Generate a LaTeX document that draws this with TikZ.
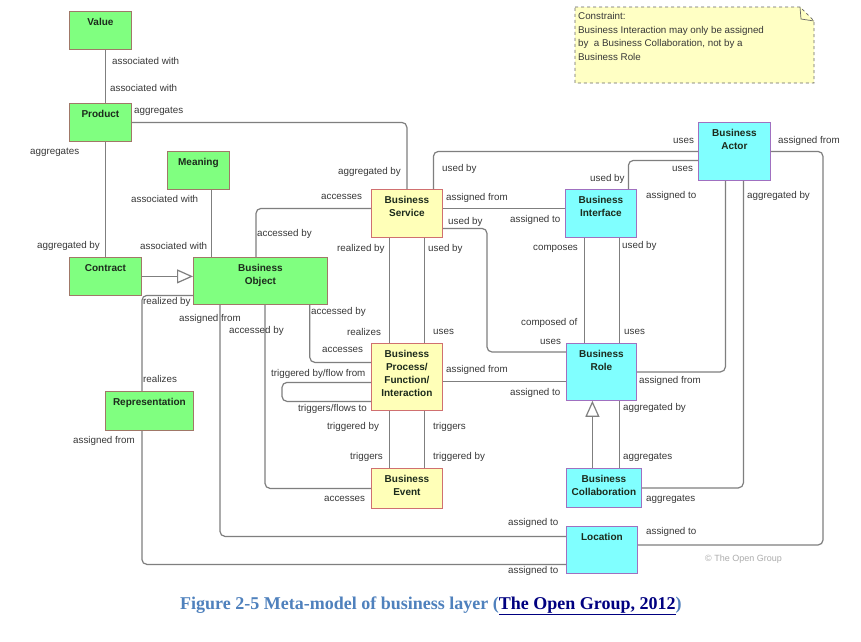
\documentclass[tikz,border=0pt]{standalone}
\usepackage{fontspec}
\setmainfont{Liberation Sans}
\newfontfamily\capfont{Liberation Serif}
\usetikzlibrary{arrows.meta,calc}
\definecolor{passfill}{HTML}{80FF80}
\definecolor{passline}{HTML}{A07868}
\definecolor{behfill}{HTML}{FFFFB8}
\definecolor{behline}{HTML}{D07070}
\definecolor{actfill}{HTML}{80FFFF}
\definecolor{actline}{HTML}{A070C0}
\definecolor{relline}{HTML}{7F7F7F}
\definecolor{lbltext}{HTML}{383838}
\definecolor{elemtext}{HTML}{1C2A1C}
\definecolor{notefill}{HTML}{FFFFC4}
\definecolor{capblue}{HTML}{4F81BD}
\definecolor{linkblue}{HTML}{000080}
\begin{document}
\begin{tikzpicture}[
        x=1pt, y=-1pt,
        elem/.style={draw, rectangle, line width=0.8pt, inner sep=0pt, anchor=north west},
        passive/.style={elem, fill=passfill, draw=passline},
        behaviour/.style={elem, fill=behfill, draw=behline},
        active/.style={elem, fill=actfill, draw=actline},
        dims/.style 2 args={minimum width=#1pt, minimum height=#2pt},
        elemname/.style={label={[anchor=north, inner sep=7pt, align=center, text=elemtext,
                    font=\bfseries\fontsize{10}{13}\selectfont]north:#1}},
        rel/.style={draw=relline, line width=1.2pt, rounded corners=5pt},
        spec/.style={rel, -{Triangle[open, length=16pt, width=14pt, fill=white]}},
        lbl/.style={anchor=west, inner sep=0pt, text=lbltext, font=\fontsize{9.8}{11}\selectfont}
    ]
    \fill[white] (0,0) rectangle (861,641);
    \useasboundingbox (0,0) rectangle (861,641);

    \node[passive, dims={62}{38}, elemname=Value] (value) at (69,11) {};
    \node[passive, dims={62}{38}, elemname=Product] (product) at (69,103) {};
    \node[passive, dims={62}{38}, elemname=Meaning] (meaning) at (167,151) {};
    \node[passive, dims={72}{38}, elemname=Contract] (contract) at (69,257) {};
    \node[passive, dims={134}{47}, elemname={Business\\Object}] (bobject) at (193,257) {};
    \node[passive, dims={88}{39}, elemname=Representation] (repr) at (105,391) {};
    \node[behaviour, dims={71}{48}, elemname={Business\\Service}] (service) at (371,189) {};
    \node[behaviour, dims={71}{67}, elemname={Business\\Process/\\Function/\\Interaction}] (process) at (371,343) {};
    \node[behaviour, dims={71}{40}, elemname={Business\\Event}] (event) at (371,468) {};
    \node[active, dims={71}{48}, elemname={Business\\Interface}] (iface) at (565,189) {};
    \node[active, dims={72}{58}, elemname={Business\\Actor}] (actor) at (698,122) {};
    \node[active, dims={70}{57}, elemname={Business\\Role}] (role) at (566,343) {};
    \node[active, dims={75}{39}, elemname={Business\\Collaboration}] (collab) at (566,468) {};
    \node[active, dims={71}{47}, elemname=Location] (location) at (566,526) {};

    \draw[rel] ([xshift=5pt]value.south) -- ([xshift=5pt]product.north);
    \draw[rel] (product.east) -| (service.north);
    \draw[rel] ([xshift=5pt]product.south) -- (contract.north);
    \draw[rel] ([xshift=13pt]meaning.south) -- ($(meaning.south |- bobject.north)+(13,0)$);
    \draw[spec] (contract.east) -- (contract.east -| bobject.west);
    \draw[rel] ([yshift=-14.5pt]bobject.west) -| ([xshift=-7.5pt]repr.north);
    \draw[rel] ([xshift=-7.5pt]repr.south) |- ([yshift=-14.5pt]location.west);
    \draw[rel] ([xshift=27pt]bobject.south west) |- ([yshift=13.5pt]location.west);
    \draw[rel] ([xshift=72pt]bobject.south west) |- (event.west);
    \draw[rel] ([xshift=-18pt]bobject.south east) |- ([yshift=14.5pt]process.west);
    \draw[rel] ([xshift=63pt]bobject.north west) |- ([yshift=5pt]service.west);
    \draw[rel] ([xshift=-17.5pt]service.south) -- ([xshift=-17.5pt]process.north);
    \draw[rel] ([xshift=17.5pt]service.south) -- ([xshift=17.5pt]process.north);
    \draw[rel] ([yshift=5pt]service.east) -- ([yshift=5pt]iface.west);
    \draw[rel] ([xshift=26.5pt]service.north) |- (actor.west);
    \coordinate (svbend) at (487,352);
    \draw[rel] ([yshift=-15pt]service.east) -| (svbend) -- (svbend -| role.west);
    \draw[rel] ([xshift=-16.5pt]iface.south) -- ($(iface.south |- role.north)+(-16.5,0)$);
    \draw[rel] ([xshift=18.5pt]iface.south) -- ($(iface.south |- role.north)+(18.5,0)$);
    \draw[rel] ([xshift=27.5pt]iface.north) |- ([yshift=-9pt]actor.west);
    \draw[rel] ([xshift=-9pt]actor.south) |- (role.east);
    \draw[rel] ([xshift=9pt]actor.south) |- (collab.east);
    \coordinate (acbend) at (823,545);
    \draw[rel] (actor.east) -| (acbend) -- (acbend -| location.east);
    \draw[rel] ([yshift=-4.5pt]process.east) -- ($(process.east -| role.west)+(0,4.5)$);
    \draw[rel] ([yshift=-5.5pt]process.west) -- ++(-89,0) |- ([yshift=-24.5pt]process.west);
    \draw[rel] ([xshift=-17.5pt]process.south) -- ([xshift=-17.5pt]event.north);
    \draw[rel] ([xshift=17.5pt]process.south) -- ([xshift=17.5pt]event.north);
    \draw[spec] ($(role.south |- collab.north)+(-9,0)$) -- ([xshift=-9pt]role.south);
    \draw[rel] ([xshift=18pt]role.south) -- ($(role.south |- collab.north)+(18,0)$);

    \node[lbl] (l1) at (112,61) {associated with};
    \node[lbl] (l2) at (110,88) {associated with};
    \node[lbl] (l3) at (134,111) {aggregates};
    \node[lbl] (l4) at (30,152) {aggregates};
    \node[lbl] (l5) at (338,172) {aggregated by};
    \node[lbl] (l6) at (131,199) {associated with};
    \node[lbl] (l7) at (37,246) {aggregated by};
    \node[lbl] (l8) at (140,246) {associated with};
    \node[lbl] (l9) at (257,234) {accessed by};
    \node[lbl] (l10) at (321,197) {accesses};
    \node[lbl] (l11) at (337,249) {realized by};
    \node[lbl] (l12) at (428,249) {used by};
    \node[lbl] (l13) at (442,169) {used by};
    \node[lbl] (l14) at (446,198) {assigned from};
    \node[lbl] (l15) at (448,222) {used by};
    \node[lbl] (l16) at (510,220) {assigned to};
    \node[lbl] (l17) at (533,249) {composes};
    \node[lbl] (l18) at (622,246) {used by};
    \node[lbl] (l19) at (590,179) {used by};
    \node[lbl] (l20) at (646,196) {assigned to};
    \node[lbl] (l21) at (672,169) {uses};
    \node[lbl] (l22) at (673,141) {uses};
    \node[lbl] (l23) at (778,141) {assigned from};
    \node[lbl] (l24) at (747,196) {aggregated by};
    \node[lbl] (l25) at (143,302) {realized by};
    \node[lbl] (l26) at (179,319) {assigned from};
    \node[lbl] (l27) at (229,331) {accessed by};
    \node[lbl] (l28) at (311,312) {accessed by};
    \node[lbl] (l29) at (347,332) {realizes};
    \node[lbl] (l30) at (433,332) {uses};
    \node[lbl] (l31) at (322,350) {accesses};
    \node[lbl] (l32) at (521,323) {composed of};
    \node[lbl] (l33) at (540,342) {uses};
    \node[lbl] (l34) at (624,332) {uses};
    \node[lbl] (l35) at (143,379) {realizes};
    \node[lbl] (l36) at (271,374) {triggered by/flow from};
    \node[lbl] (l37) at (446,370) {assigned from};
    \node[lbl] (l38) at (510,393) {assigned to};
    \node[lbl] (l39) at (639,381) {assigned from};
    \node[lbl] (l40) at (298,409) {triggers/flows to};
    \node[lbl] (l41) at (623,408) {aggregated by};
    \node[lbl] (l42) at (327,427) {triggered by};
    \node[lbl] (l43) at (433,427) {triggers};
    \node[lbl] (l44) at (73,441) {assigned from};
    \node[lbl] (l45) at (350,457) {triggers};
    \node[lbl] (l46) at (433,457) {triggered by};
    \node[lbl] (l47) at (623,457) {aggregates};
    \node[lbl] (l48) at (324,499) {accesses};
    \node[lbl] (l49) at (646,499) {aggregates};
    \node[lbl] (l50) at (508,523) {assigned to};
    \node[lbl] (l51) at (646,532) {assigned to};
    \node[lbl] (l52) at (508,571) {assigned to};
    \node[lbl, text=gray!65, font=\fontsize{9}{11}\selectfont] (copyr) at (705,559) {\textcopyright\ The Open Group};

    \draw[dashed, draw=gray!80!black, fill=notefill, line width=0.7pt]
        (575,7) -- (800,7) -- (814,21) -- (814,83) -- (575,83) -- cycle;
    \draw[gray!80!black, line width=0.7pt] (800,7) -- (801,19) -- (814,21);
    \node[anchor=north west, inner sep=0pt, align=left, text=lbltext,
        font=\fontsize{9.8}{13.4}\selectfont] (note) at (578,12.5)
        {Constraint:\\Business Interaction may only be assigned\\by \ a Business Collaboration, not by a\\Business Role};

    \node[anchor=west, inner sep=0pt, text=capblue, font=\capfont\bfseries\fontsize{18}{20}\selectfont] (caption) at (180,606)
        {Figure 2-5 Meta-model of business layer (\textcolor{linkblue}{\underline{The Open Group, 2012}})};
\end{tikzpicture}
\end{document}
